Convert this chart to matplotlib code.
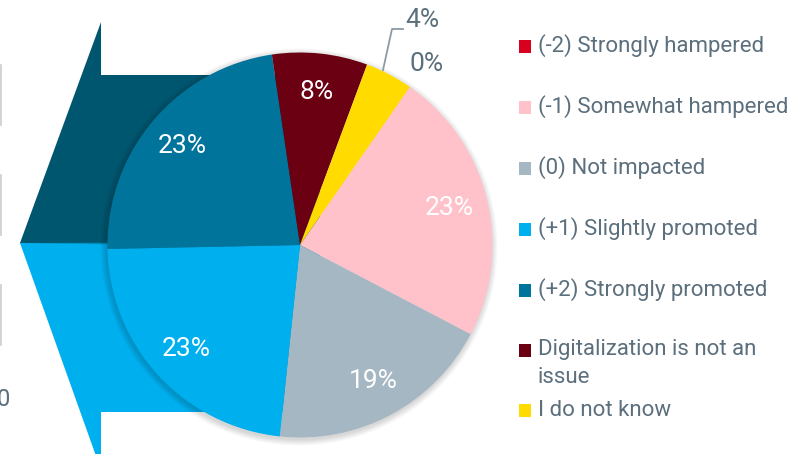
import numpy as np
import matplotlib
matplotlib.use("Agg")
import matplotlib.pyplot as plt
from matplotlib.patches import Polygon, Circle, Rectangle

plt.rcParams["font.family"] = ["Roboto", "DejaVu Sans"]

categories = ["(-2) Strongly hampered", "(-1) Somewhat hampered", "(0) Not impacted",
              "(+1) Slightly promoted", "(+2) Strongly promoted",
              "Digitalization is not an\nissue", "I do not know"]
shares = [0, 23, 19, 23, 23, 8, 4]
colors = ["#d7001f", "#ffc2cb", "#a5b7c2", "#00b0ee", "#00749a", "#6b0013", "#ffdb00"]

TXT = "#5b6f7d"
W, H = 789, 454


def Y(y):
    # pixel rows counted from the top
    return H - y


fig = plt.figure(figsize=(W / 100, H / 100), dpi=100)
ax = fig.add_axes([0, 0, 1, 1])

# faint rules of the neighbouring panel on the far left
for y0, y1 in [(65, 125), (175, 235), (285, 345)]:
    ax.plot([0.8, 0.8], [Y(y0), Y(y1)], color="#c9cdd0", lw=1.2, zorder=1)
ax.text(10, Y(400), "0", color=TXT, fontsize=17, ha="right", va="center")

# big double arrow behind the pie
ax.add_patch(Polygon([(20, Y(243)), (101, Y(22)), (101, Y(75)), (320, Y(75)),
                      (320, Y(243))], closed=True, color="#00566f", lw=0, zorder=2))
ax.add_patch(Polygon([(20, Y(243)), (320, Y(243)), (320, Y(412)), (101, Y(412)),
                      (101, Y(470))], closed=True, color="#00b0ee", lw=0, zorder=2))
for k, c in enumerate(["#006a8a", "#0080a8", "#0093c6"]):
    y = 241 + 2.5 * k
    ax.add_patch(Polygon([(20 + k * 0.8, Y(243)), (320, Y(y)), (320, Y(y + 2.5))],
                         closed=True, color=c, lw=0, zorder=2))

cx, cy, R = 300, Y(245), 192.5

# soft drop shadow
for i in range(8):
    ax.add_patch(Circle((cx - 1, cy - 2), R + 0.5 + i * 0.8, color="black",
                        alpha=0.018, lw=0, zorder=3))

wedges, _ = ax.pie(shares, colors=colors, startangle=55.2, counterclock=False,
                   center=(cx, cy), radius=R,
                   wedgeprops=dict(linewidth=0, zorder=4))
for w in wedges:
    w.set_zorder(4)

for w, v in zip(wedges, shares):
    if v < 5:
        continue
    a = np.deg2rad((w.theta1 + w.theta2) / 2)
    ax.text(cx + 0.8 * R * np.cos(a), cy + 0.8 * R * np.sin(a), f"{v}%",
            color="white", fontsize=19, ha="center", va="center", zorder=6)

# small slices get outside labels
ax.plot([383, 392, 403], [Y(70), Y(29), Y(29)], color="#8a9aa6", lw=1.3, zorder=5)
ax.text(405, Y(20), f"{shares[6]}%", color=TXT, fontsize=19, ha="left",
        va="center")
ax.text(410, Y(64), f"{shares[0]}%", color=TXT, fontsize=19, ha="left",
        va="center")

# legend
rows = [46, 107, 168, 229, 290, 350, 410]
for lab, c, y in zip(categories, colors, rows):
    ax.add_patch(Rectangle((519, Y(y) - 6.5), 12, 13, color=c, lw=0))
    ax.text(538, Y(y) + (11 if "\n" in lab else 0), lab, color=TXT,
            fontsize=16, ha="left", va="top" if "\n" in lab else "center",
            linespacing=1.45)

ax.set_xlim(0, W)
ax.set_ylim(0, H)
ax.set_aspect("equal")
ax.axis("off")
fig.savefig("out.png", dpi=100)
